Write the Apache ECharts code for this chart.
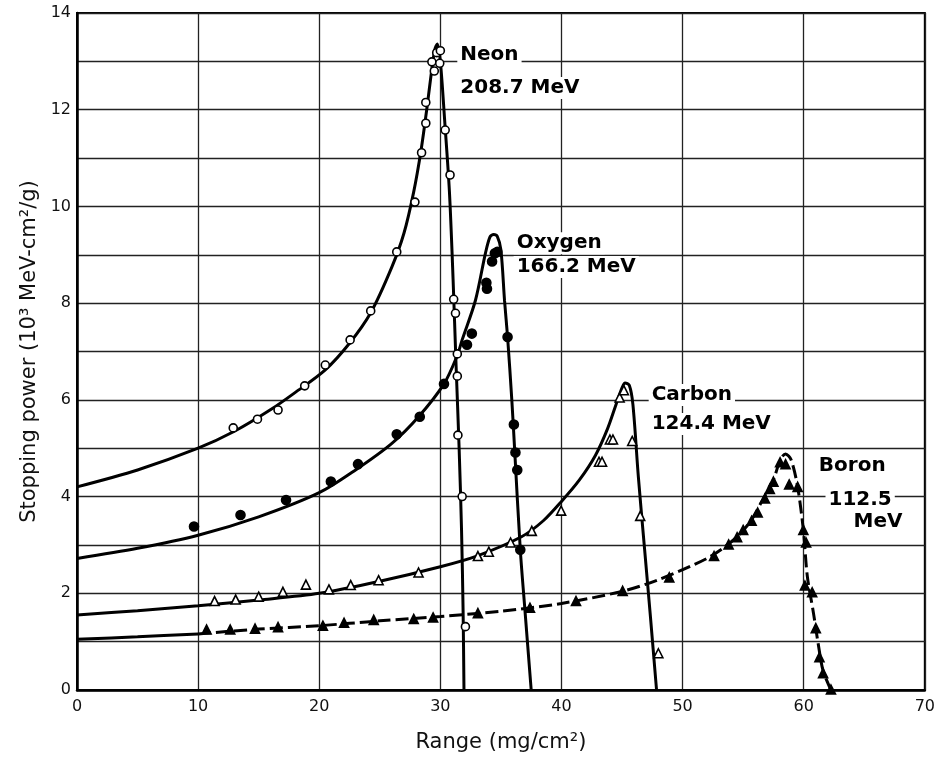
<!DOCTYPE html>
<html>
<head>
<meta charset="utf-8">
<script src="https://cdn.jsdelivr.net/npm/echarts@6/dist/echarts.min.js"></script>
<style>
html,body{margin:0;padding:0;background:#fff;}
#chart{width:938px;height:759px;}
</style>
</head>
<body>
<div id="chart"></div>
<script>
// ---- data ----
var xTickLabels = [0, 10, 20, 30, 40, 50, 60, 70];
var yTickLabels = [0, 2, 4, 6, 8, 10, 12, 14];

var neonCurve = [[0,4.2],[5,4.55],[10,5.0],[13,5.35],[16,5.8],[18,6.15],[20.5,6.62],[22.5,7.17],[24.25,7.8],[26,8.75],[27,9.45],[27.8,10.3],[28.4,11.15],[28.9,12.05],[29.3,12.85],[29.55,13.25],[29.75,13.36],[30.0,13.0],[30.35,11.8],[30.75,10.3],[31.05,8.5],[31.3,6.7],[31.55,5.0],[31.75,3.3],[31.88,1.6],[31.95,0]];
var neonPoints = [[12.9,5.42],[14.9,5.6],[16.6,5.79],[18.8,6.29],[20.5,6.72],[22.55,7.24],[24.25,7.84],[26.4,9.06],[27.9,10.09],[28.45,11.11],[28.8,11.72],[28.8,12.15],[29.3,12.99],[29.5,12.8],[29.7,13.18],[30.0,13.22],[29.95,12.96],[30.4,11.58],[30.8,10.65],[31.1,8.08],[31.25,7.79],[31.4,6.95],[31.4,6.49],[31.45,5.27],[31.8,4.0],[32.07,1.31]];

var oxygenCurve = [[0,2.72],[5,2.93],[10,3.2],[15,3.58],[20,4.08],[23,4.55],[26,5.1],[28.2,5.65],[30.3,6.33],[31.4,6.92],[31.8,7.24],[32.9,8.06],[33.72,9.03],[34.1,9.37],[34.4,9.42],[34.7,9.38],[35.0,9.1],[35.3,8.05],[35.55,7.3],[35.9,6.0],[36.15,4.9],[36.6,2.9],[37.0,1.6],[37.5,0]];
var oxygenPoints = [[9.66,3.38],[13.5,3.62],[17.26,3.93],[20.96,4.31],[23.2,4.67],[26.4,5.29],[28.3,5.65],[30.3,6.33],[32.2,7.14],[32.6,7.37],[33.85,8.3],[33.8,8.42],[34.27,8.86],[34.5,9.03],[34.7,9.06],[35.55,7.3],[36.07,5.49],[36.2,4.91],[36.35,4.55],[36.6,2.9]];

var carbonCurve = [[0,1.55],[5,1.64],[10,1.74],[15,1.86],[20,2.0],[25,2.25],[30,2.55],[33,2.77],[36.7,3.17],[38.5,3.5],[40,3.9],[41.5,4.35],[42.8,4.85],[43.8,5.4],[44.5,5.9],[45.0,6.25],[45.25,6.35],[45.6,6.3],[45.9,5.9],[46.35,4.4],[46.85,2.95],[47.35,1.5],[47.85,0]];
var carbonPoints = [[11.36,1.84],[13.1,1.87],[15.0,1.93],[17.0,2.03],[18.9,2.18],[20.8,2.08],[22.6,2.17],[24.9,2.27],[28.2,2.43],[33.1,2.77],[34.0,2.86],[35.8,3.05],[37.55,3.29],[39.97,3.71],[43.1,4.72],[43.35,4.72],[44.0,5.18],[44.25,5.18],[44.8,6.05],[45.15,6.2],[45.84,5.15],[46.5,3.6],[48.0,0.76]];

var boronCurveSolid = [[0,1.05],[5,1.1],[10,1.16]];
var boronCurveDashed = [[10,1.16],[15,1.26],[20,1.33],[25,1.43],[30,1.52],[35,1.63],[40,1.79],[45,2.04],[48,2.28],[52,2.72],[54,3.06],[55.5,3.45],[56.6,3.93],[57.5,4.35],[58.1,4.78],[58.5,4.88],[58.96,4.76],[59.5,4.2],[59.97,3.31],[60.3,2.35],[60.8,1.6],[61.2,0.95],[61.6,0.4],[62.25,0]];
var boronPoints = [[10.7,1.25],[12.65,1.25],[14.7,1.27],[16.6,1.3],[20.3,1.33],[22.05,1.39],[24.5,1.45],[27.8,1.47],[29.4,1.5],[33.1,1.59],[37.4,1.7],[41.2,1.84],[45.05,2.05],[48.9,2.33],[52.6,2.77],[53.8,3.01],[54.5,3.16],[55.0,3.31],[55.7,3.5],[56.2,3.67],[56.8,3.96],[57.2,4.16],[57.5,4.31],[58.05,4.71],[58.5,4.67],[58.8,4.25],[59.5,4.2],[59.97,3.31],[60.2,3.05],[60.1,2.16],[60.7,2.02],[61.0,1.28],[61.3,0.68],[61.6,0.35],[62.25,0.01]];

var annotationTexts = ['Neon', '208.7 MeV', 'Oxygen', '166.2 MeV', 'Carbon', '124.4 MeV', 'Boron', '112.5', 'MeV'];
var annotationAt = [[31.4,13.13],[31.4,12.45],[36.05,9.24],[36.05,8.75],[47.2,6.1],[47.2,5.5],[61.0,4.63],[61.8,3.93],[63.87,3.47]];

var xTitle = 'Range (mg/cm\u00B2)';
var yTitle = 'Stopping power (10\u00B3 MeV-cm\u00B2/g)';

// ---- chart ----
var FONT = 'DejaVu Sans';
var chart = echarts.init(document.getElementById('chart'), null, {renderer: 'canvas'});

function curve(data, dashed) {
  return {
    type: 'line', data: data, smooth: 0.3, symbol: 'none',
    lineStyle: {color: '#000', width: 3, type: dashed ? [13, 5] : 'solid'},
    z: 3, silent: true, animation: false
  };
}
function points(data, symbol, filled, size) {
  return {
    type: 'scatter', data: data, symbol: symbol, symbolSize: size,
    itemStyle: {color: filled ? '#000' : '#fff', borderColor: '#000', borderWidth: 1.6, opacity: 1},
    z: 4, silent: true, animation: false
  };
}

var annData = annotationTexts.map(function (t, i) {
  return {value: annotationAt[i], label: {formatter: t}};
});

var option = {
  backgroundColor: '#fff',
  animation: false,
  grid: {left: 77, right: 11, top: 13, bottom: 69, show: true, borderColor: '#000', borderWidth: 2, backgroundColor: 'transparent'},
  xAxis: {
    type: 'value', min: 0, max: 70, interval: 10,
    axisLine: {show: true, onZero: false, lineStyle: {color: '#000', width: 2.5}},
    axisTick: {show: false},
    splitLine: {show: true, lineStyle: {color: '#222', width: 1.3}},
    axisLabel: {customValues: xTickLabels, color: '#111', fontFamily: FONT, fontSize: 16, margin: 9},
    name: xTitle, nameLocation: 'middle', nameGap: 42,
    nameTextStyle: {color: '#111', fontFamily: FONT, fontSize: 21}
  },
  yAxis: {
    type: 'value', min: 0, max: 14, interval: 1,
    axisLine: {show: true, onZero: false, lineStyle: {color: '#000', width: 2.5}},
    axisTick: {show: false},
    splitLine: {show: true, lineStyle: {color: '#222', width: 1.3}},
    axisLabel: {customValues: yTickLabels, color: '#111', fontFamily: FONT, fontSize: 16, margin: 6},
    name: yTitle, nameLocation: 'middle', nameGap: 37,
    nameTextStyle: {color: '#111', fontFamily: FONT, fontSize: 21}
  },
  series: [
    curve(neonCurve), curve(oxygenCurve), curve(carbonCurve),
    curve(boronCurveSolid), curve(boronCurveDashed, true),
    points(neonPoints, 'circle', false, 8),
    points(oxygenPoints, 'circle', true, 9),
    points(carbonPoints, 'triangle', false, 9),
    points(boronPoints, 'triangle', true, 9),
    {
      type: 'scatter', data: annData, symbol: 'circle', symbolSize: 0,
      itemStyle: {color: '#000', opacity: 1}, z: 6, silent: true, animation: false,
      label: {
        show: true, position: 'right', distance: 0, opacity: 1,
        color: '#000', fontFamily: FONT, fontWeight: 'bold', fontSize: 20,
        backgroundColor: '#fff', padding: [1, 3, 1, 3]
      }
    }
  ]
};
chart.setOption(option);
</script>
</body>
</html>
